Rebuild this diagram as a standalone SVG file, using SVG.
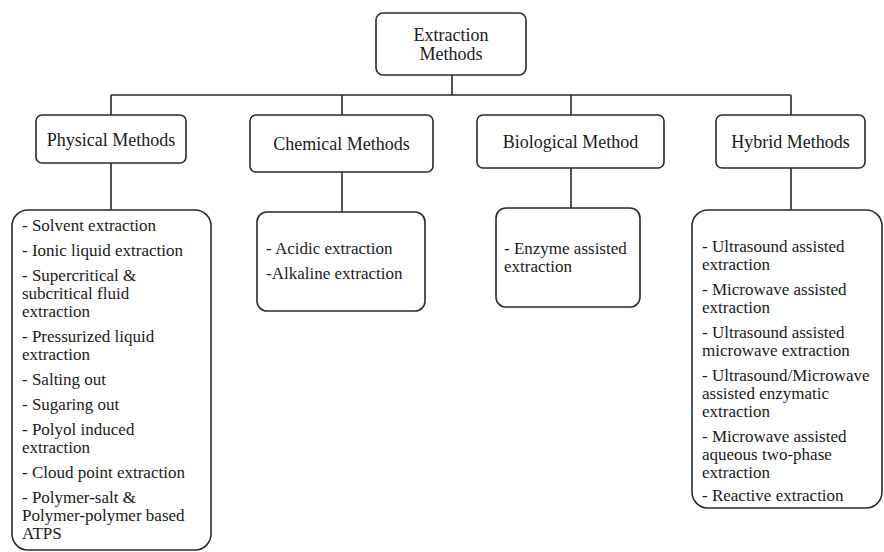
<svg xmlns="http://www.w3.org/2000/svg" width="884" height="552" viewBox="0 0 884 552">
<style>
.box{fill:#fff;stroke:#2a2a2a;stroke-width:1.6}
.ln{fill:none;stroke:#2a2a2a;stroke-width:1.6}
.h{font-family:"Liberation Serif","Times New Roman",serif;font-size:18px;fill:#1a1a1a;text-anchor:middle}
.t{font-family:"Liberation Serif","Times New Roman",serif;font-size:17px;fill:#1a1a1a}
</style>
<rect width="884" height="552" fill="#fff"/>
<g id="connectors">
<path class="ln" d="M452 75V95M111 95H791M111 95V115M342 95V115M571 95V115M791 95V115"/>
<path class="ln" d="M111 163V210M342 172V212M571 168V208M791 168V210"/>
</g>
<g id="root">
<rect class="box" x="376" y="13" width="150" height="62" rx="7"/>
<text class="h" x="451" y="41">Extraction</text>
<text class="h" x="451" y="60">Methods</text>
</g>
<g id="physical">
<rect class="box" x="36" y="115" width="150" height="48" rx="6"/>
<text class="h" x="111" y="145.5">Physical Methods</text>
</g>
<g id="chemical">
<rect class="box" x="250" y="115" width="183" height="57" rx="6"/>
<text class="h" x="341.5" y="149.5">Chemical Methods</text>
</g>
<g id="biological">
<rect class="box" x="477" y="115" width="187" height="53" rx="6"/>
<text class="h" x="570.5" y="147.5">Biological Method</text>
</g>
<g id="hybrid">
<rect class="box" x="716" y="115" width="149" height="53" rx="6"/>
<text class="h" x="790.5" y="147.5">Hybrid Methods</text>
</g>
<g id="physical-list">
<rect class="box" x="12" y="210" width="199" height="340" rx="16"/>
<text class="t" x="22" y="231">- Solvent extraction</text>
<text class="t" x="22" y="256">- Ionic liquid extraction</text>
<text class="t" x="22" y="281">- Supercritical &amp;</text>
<text class="t" x="22" y="299">subcritical fluid</text>
<text class="t" x="22" y="317">extraction</text>
<text class="t" x="22" y="342">- Pressurized liquid</text>
<text class="t" x="22" y="360">extraction</text>
<text class="t" x="22" y="385">- Salting out</text>
<text class="t" x="22" y="410">- Sugaring out</text>
<text class="t" x="22" y="435">- Polyol induced</text>
<text class="t" x="22" y="453">extraction</text>
<text class="t" x="22" y="478">- Cloud point extraction</text>
<text class="t" x="22" y="503">- Polymer-salt &amp;</text>
<text class="t" x="22" y="521">Polymer-polymer based</text>
<text class="t" x="22" y="539">ATPS</text>
</g>
<g id="chemical-list">
<rect class="box" x="257" y="212" width="168" height="99" rx="10"/>
<text class="t" x="266" y="254">- Acidic extraction</text>
<text class="t" x="266" y="279">-Alkaline extraction</text>
</g>
<g id="biological-list">
<rect class="box" x="496" y="208" width="144" height="99" rx="10"/>
<text class="t" x="504" y="254">- Enzyme assisted</text>
<text class="t" x="504" y="272">extraction</text>
</g>
<g id="hybrid-list">
<rect class="box" x="692" y="210" width="190" height="298" rx="16"/>
<text class="t" x="702" y="252">- Ultrasound assisted</text>
<text class="t" x="702" y="270">extraction</text>
<text class="t" x="702" y="295">- Microwave assisted</text>
<text class="t" x="702" y="313">extraction</text>
<text class="t" x="702" y="338">- Ultrasound assisted</text>
<text class="t" x="702" y="356">microwave extraction</text>
<text class="t" x="702" y="381">- Ultrasound/Microwave</text>
<text class="t" x="702" y="399">assisted enzymatic</text>
<text class="t" x="702" y="417">extraction</text>
<text class="t" x="702" y="442">- Microwave assisted</text>
<text class="t" x="702" y="460">aqueous two-phase</text>
<text class="t" x="702" y="478">extraction</text>
<text class="t" x="702" y="501">- Reactive extraction</text>
</g>
</svg>
